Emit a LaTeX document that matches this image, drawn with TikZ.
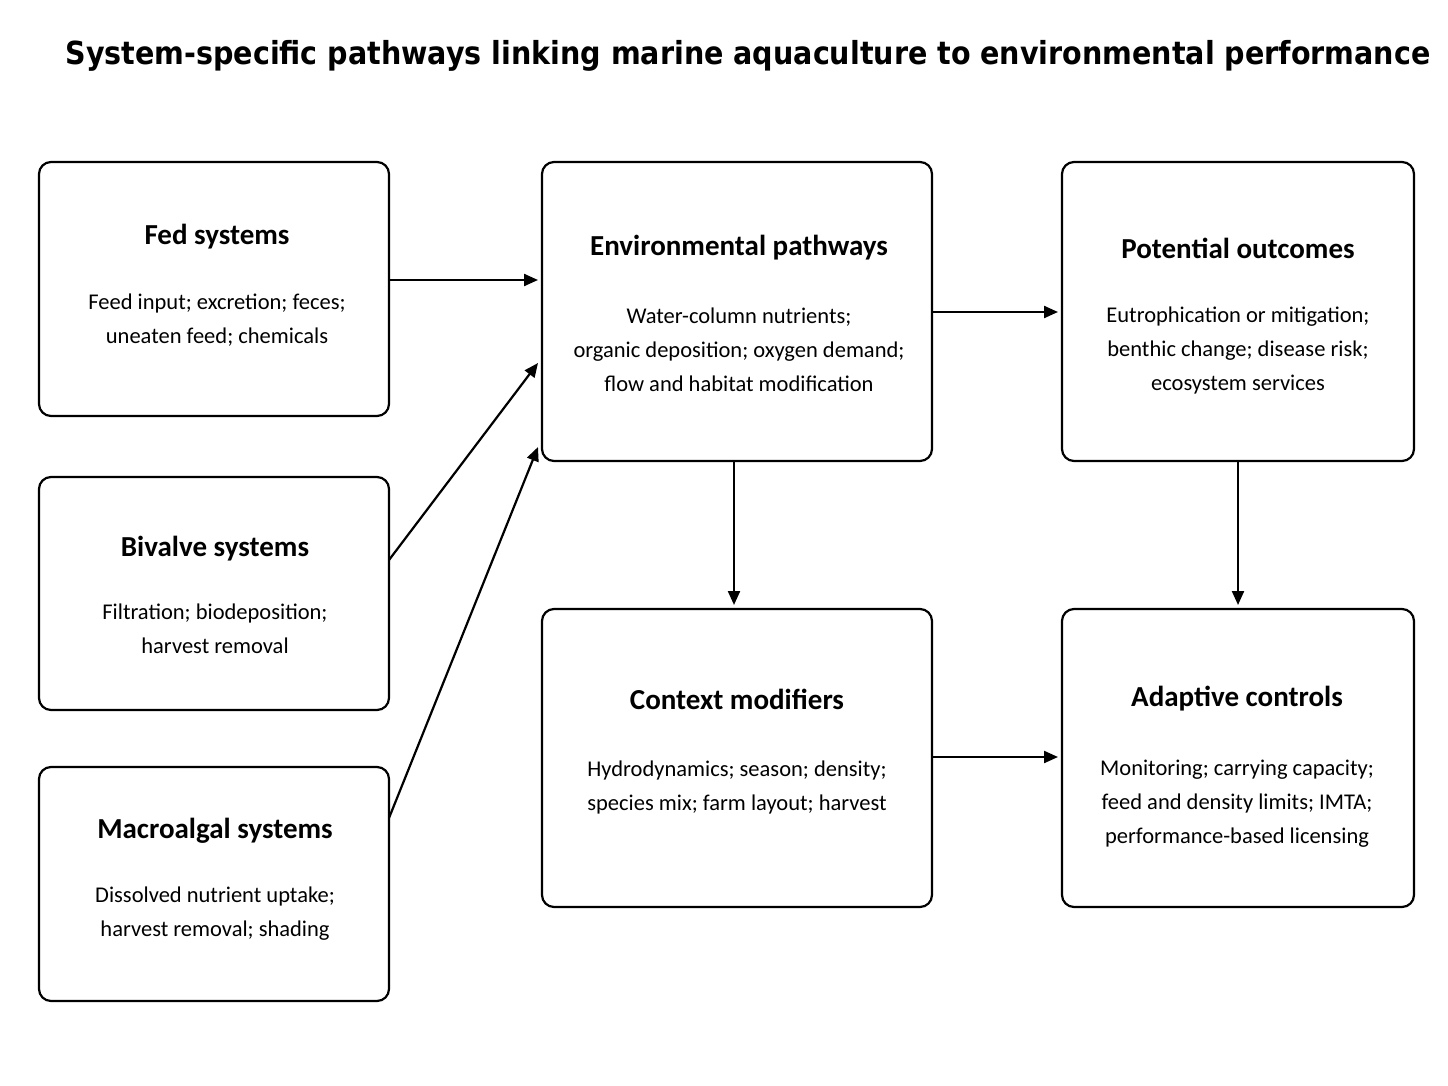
\documentclass[tikz,border=0pt]{standalone}
\usepackage{fontspec}
\setmainfont{Carlito}
\newfontfamily\titlefont{DejaVu Sans Condensed}
\usetikzlibrary{arrows.meta}
\begin{document}
\begin{tikzpicture}[x=1pt,y=-1pt,
 box/.style={draw,line width=2.2pt,rounded corners=12pt},
 hd/.style={font=\fontsize{29}{34}\selectfont\bfseries},
 bd/.style={font=\fontsize{22.5}{34}\selectfont,align=center},
 arr/.style={-{Triangle[length=14pt,width=12pt]},line width=2.2pt}]
\useasboundingbox (0,0) rectangle (1448,1086);
\node[anchor=center] (title) at (748,56) {\resizebox{1365pt}{!}{\titlefont\bfseries\fontsize{30}{36}\selectfont System-specific pathways linking marine aquaculture to environmental performance}};
\draw[box] (39,162) rectangle (389,416) node[pos=0,anchor=north west,inner sep=0] (fed) {};
\coordinate (fedE) at (389,280);
\node[hd] (fedh) at (217,237) {Fed systems};
\node[bd] (fedb) at (217,320) {Feed input; excretion; feces;\\uneaten feed; chemicals};
\draw[box] (39,477) rectangle (389,710);
\coordinate (bivE) at (389,560);
\node[hd] (bivh) at (215,549) {Bivalve systems};
\node[bd] (bivb) at (215,629) {Filtration; biodeposition;\\harvest removal};
\draw[box] (39,767) rectangle (389,1001);
\coordinate (macE) at (389,818);
\node[hd] (mach) at (215,831) {Macroalgal systems};
\node[bd] (macb) at (215,914) {Dissolved nutrient uptake;\\harvest removal; shading};
\draw[box] (542,162) rectangle (932,461);
\node[hd] (envh) at (739,248) {Environmental pathways};
\node[bd] (envb) at (739,350) {Water-column nutrients;\\organic deposition; oxygen demand;\\flow and habitat modification};
\draw[box] (1062,162) rectangle (1414,461);
\node[hd] (outh) at (1238,248) {Potential outcomes};
\node[bd] (outb) at (1238,350) {Eutrophication or mitigation;\\benthic change; disease risk;\\ecosystem services};
\draw[box] (542,609) rectangle (932,907);
\node[hd] (ctxh) at (737,699) {Context modifiers};
\node[bd] (ctxb) at (737,787) {Hydrodynamics; season; density;\\species mix; farm layout; harvest};
\draw[box] (1062,609) rectangle (1414,907);
\node[hd] (adah) at (1237,699) {Adaptive controls};
\node[bd] (adab) at (1237,804) {Monitoring; carrying capacity;\\feed and density limits; IMTA;\\performance-based licensing};
\coordinate (envW1) at (538,280);
\coordinate (envW2) at (538,363);
\coordinate (envW3) at (538,447);
\coordinate (envE) at (932,312);
\coordinate (outW) at (1058,312);
\coordinate (envS) at (734,461);
\coordinate (ctxN) at (734,605);
\coordinate (outS) at (1238,461);
\coordinate (adaN) at (1238,605);
\coordinate (ctxE) at (932,757);
\coordinate (adaW) at (1058,757);
\draw[arr] (fedE) -- (envW1);
\draw[arr] (bivE) -- (envW2);
\draw[arr] (macE) -- (envW3);
\draw[arr] (envE) -- (outW);
\draw[arr] (envS) -- (ctxN);
\draw[arr] (outS) -- (adaN);
\draw[arr] (ctxE) -- (adaW);
\end{tikzpicture}
\end{document}
